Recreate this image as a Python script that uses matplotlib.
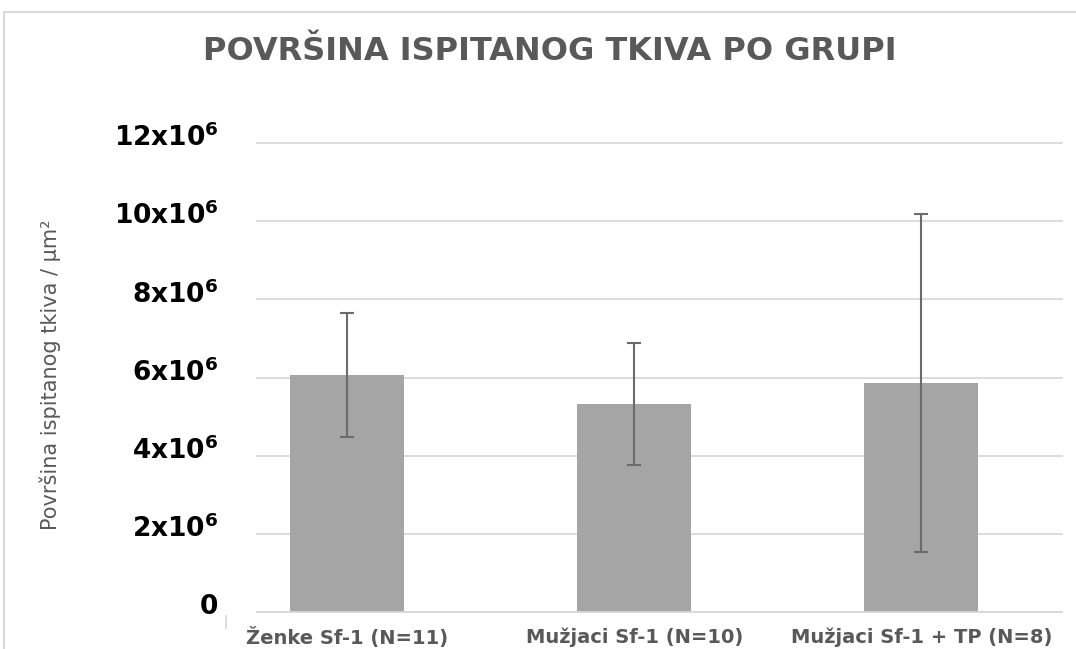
import matplotlib
matplotlib.use('Agg')
import matplotlib.pyplot as plt
from matplotlib.patches import Rectangle
from matplotlib.transforms import ScaledTranslation

plt.rcParams['font.family'] = ['DejaVu Sans']
plt.rcParams['mathtext.fontset'] = 'dejavusans'

# podaci po grupama
grupe = ['Ženke Sf-1 (N=11)', 'Mužjaci Sf-1 (N=10)', 'Mužjaci Sf-1 + TP (N=8)']
povrsina = [6.07e6, 5.32e6, 5.86e6]
sd = [1.58e6, 1.56e6, 4.32e6]
y_ticks = [0, 2e6, 4e6, 6e6, 8e6, 10e6, 12e6]
y_labels = ['0'] + [r'$\mathbf{%dx10^{6}}$' % v for v in (2, 4, 6, 8, 10, 12)]

fig = plt.figure(figsize=(10.76, 6.49), dpi=100)
fig.patches.append(Rectangle((4 / 1076, -0.01), 1.05, 1 - 12 / 649 + 0.01,
                             transform=fig.transFigure, fill=False,
                             edgecolor='#d9d9d9', linewidth=1.5))

ax = fig.add_axes([257 / 1076, 37 / 649, 805 / 1076, 469 / 649])
x = list(range(len(grupe)))
ax.bar(x, povrsina, width=0.397, color='#a5a5a5', zorder=2)
ax.errorbar(x, povrsina, yerr=sd, fmt='none', ecolor='#6b6b6b',
            elinewidth=1.5, capsize=5, capthick=1.5, zorder=3)

ax.set_xlim(-0.314, 2.49)
ax.set_ylim(0, 12e6)
ax.set_yticks(y_ticks)
ax.set_yticklabels(y_labels, fontsize=19, fontweight='bold', color='black')
ax.set_xticks(x)
ax.set_xticklabels(grupe, fontsize=14, fontweight='bold', color='#595959')
ax.tick_params(axis='both', length=0)
ax.tick_params(axis='y', pad=28)
ax.tick_params(axis='x', pad=11)

# oznake na y osi malo iznad linija mreže
pomak = ScaledTranslation(0, 8 / 100, fig.dpi_scale_trans)
for lbl in ax.get_yticklabels():
    lbl.set_transform(lbl.get_transform() + pomak)

ax.grid(axis='y', color='#d9d9d9', linewidth=1.3, zorder=0)
for g in ax.get_ygridlines():
    g.set_clip_on(False)
for s in ['top', 'right', 'left']:
    ax.spines[s].set_visible(False)
ax.spines['bottom'].set_color('#d9d9d9')
ax.spines['bottom'].set_linewidth(1.3)

# mala crtica ispod osi
fig.add_artist(plt.Line2D([226 / 1076, 226 / 1076], [1 - 628 / 649, 1 - 616 / 649],
                          color='#d9d9d9', linewidth=1.3))

fig.text(50 / 1076, 1 - 375 / 649, 'Površina ispitanog tkiva / µm²', rotation=90,
         ha='center', va='center', fontsize=15, color='#595959')
fig.text(550 / 1076, 1 - 51 / 649, 'POVRŠINA ISPITANOG TKIVA PO GRUPI',
         ha='center', va='center', fontsize=23, fontweight='bold', color='#595959')

fig.savefig('out.png', dpi=100)
